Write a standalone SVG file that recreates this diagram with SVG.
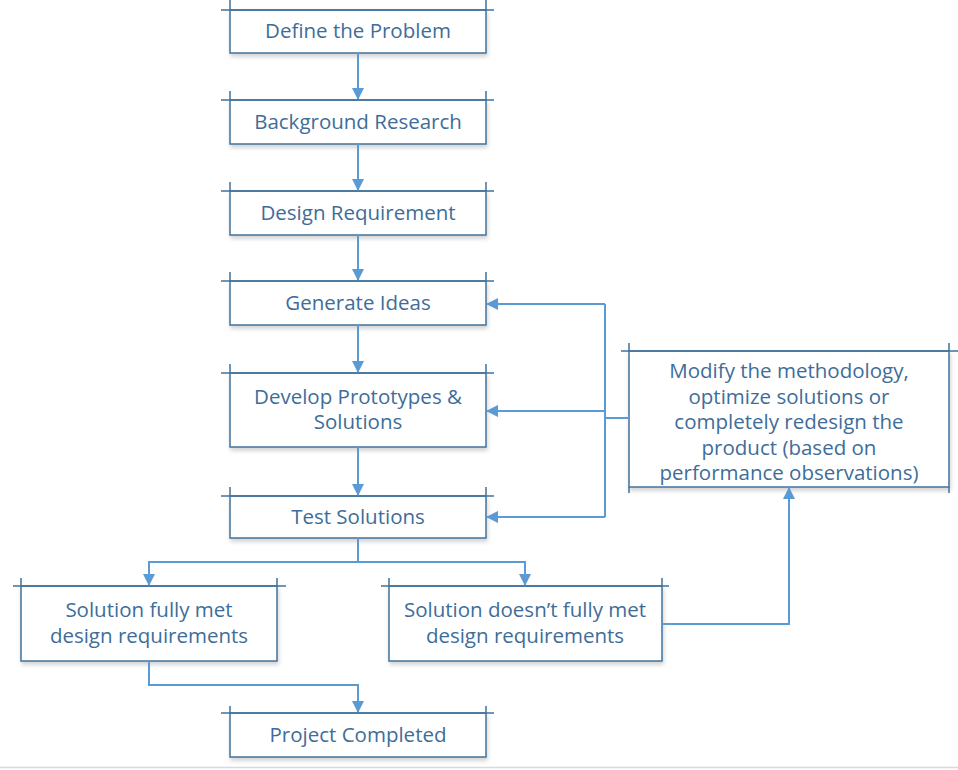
<svg xmlns="http://www.w3.org/2000/svg" width="958" height="770" viewBox="0 0 958 770">
<defs>
<marker id="ah" markerWidth="12" markerHeight="12" viewBox="0 0 12 12" refX="11" refY="6" orient="auto" markerUnits="userSpaceOnUse">
<path d="M0,0 L12,6 L0,12 Z" fill="#5B9BD5"/>
</marker>
<filter id="sh" x="-10%" y="-10%" width="120%" height="130%">
<feGaussianBlur in="SourceAlpha" stdDeviation="2"/>
<feOffset dx="1" dy="3" result="b"/>
<feComponentTransfer><feFuncA type="linear" slope="0.18"/></feComponentTransfer>
<feMerge><feMergeNode/><feMergeNode in="SourceGraphic"/></feMerge>
</filter>
</defs>
<style>
.box{fill:#fff;stroke:#41719C;stroke-width:1.5;filter:url(#sh)}
.ln{fill:none;stroke:#41719C;stroke-width:1.5}
.t{font-family:"Open Sans","DejaVu Sans",sans-serif;font-size:20.5px;fill:#3E6D99;text-anchor:middle;dominant-baseline:central}
.c{fill:none;stroke:#5B9BD5;stroke-width:2}
</style>
<rect width="958" height="770" fill="#fff"/>
<line x1="0" y1="767.5" x2="958" y2="767.5" stroke="#d9d9d9" stroke-width="1.5"/>

<g id="n1">
<rect class="box" x="230" y="10" width="256" height="43"/>
<path class="ln" d="M221,10H494M230,0V10M486,0V10"/>
<text class="t" x="358" y="30">Define the Problem</text>
</g>
<g id="n2">
<rect class="box" x="230" y="100" width="256" height="44"/>
<path class="ln" d="M221,100H494M230,91V100M486,91V100"/>
<text class="t" x="358" y="121">Background Research</text>
</g>
<g id="n3">
<rect class="box" x="230" y="191" width="256" height="44"/>
<path class="ln" d="M221,191H494M230,182V191M486,182V191"/>
<text class="t" x="358" y="212">Design Requirement</text>
</g>
<g id="n4">
<rect class="box" x="230" y="281" width="256" height="44"/>
<path class="ln" d="M221,281H494M230,272V281M486,272V281"/>
<text class="t" x="358" y="302">Generate Ideas</text>
</g>
<g id="n5">
<rect class="box" x="230" y="373" width="256" height="74"/>
<path class="ln" d="M221,373H494M230,364V373M486,364V373"/>
<text class="t" x="358" y="396">Develop Prototypes &amp;</text>
<text class="t" x="358" y="421">Solutions</text>
</g>
<g id="n6">
<rect class="box" x="230" y="496" width="256" height="42"/>
<path class="ln" d="M221,496H494M230,487V496M486,487V496"/>
<text class="t" x="358" y="516">Test Solutions</text>
</g>
<g id="n7">
<rect class="box" x="21" y="586" width="256" height="75"/>
<path class="ln" d="M13,586H286M21,578V586M277,578V586"/>
<text class="t" x="149" y="609">Solution fully met</text>
<text class="t" x="149" y="635">design requirements</text>
</g>
<g id="n8">
<rect class="box" x="389" y="586" width="273" height="75"/>
<path class="ln" d="M381,586H669M389,578V586M662,578V586"/>
<text class="t" x="525" y="609">Solution doesn’t fully met</text>
<text class="t" x="525" y="635">design requirements</text>
</g>
<g id="n9">
<rect class="box" x="230" y="713" width="256" height="44"/>
<path class="ln" d="M221,713H494M230,706V713M486,706V713"/>
<text class="t" x="358" y="734">Project Completed</text>
</g>
<g id="n10">
<rect class="box" x="629" y="351" width="320" height="136"/>
<path class="ln" d="M621,351H958M629,343V351M949,343V351M629,487V493M949,487V493"/>
<text class="t" x="789" y="370">Modify the methodology,</text>
<text class="t" x="789" y="396">optimize solutions or</text>
<text class="t" x="789" y="421">completely redesign the</text>
<text class="t" x="789" y="447">product (based on</text>
<text class="t" x="789" y="472">performance observations)</text>
</g>

<g id="connectors">
<path class="c" d="M358,53V99" marker-end="url(#ah)"/>
<path class="c" d="M358,144V190" marker-end="url(#ah)"/>
<path class="c" d="M358,235V280" marker-end="url(#ah)"/>
<path class="c" d="M358,325V372" marker-end="url(#ah)"/>
<path class="c" d="M358,447V495" marker-end="url(#ah)"/>
<path class="c" d="M358,538V562H149V585" marker-end="url(#ah)"/>
<path class="c" d="M358,562H525V585" marker-end="url(#ah)"/>
<path class="c" d="M149,661V685H358V712" marker-end="url(#ah)"/>
<path class="c" d="M662,624H789V488" marker-end="url(#ah)"/>
<path class="c" d="M629,418H605"/>
<path class="c" d="M605,304V517"/>
<path class="c" d="M605,304H487" marker-end="url(#ah)"/>
<path class="c" d="M605,411H487" marker-end="url(#ah)"/>
<path class="c" d="M605,517H487" marker-end="url(#ah)"/>
</g>
</svg>
